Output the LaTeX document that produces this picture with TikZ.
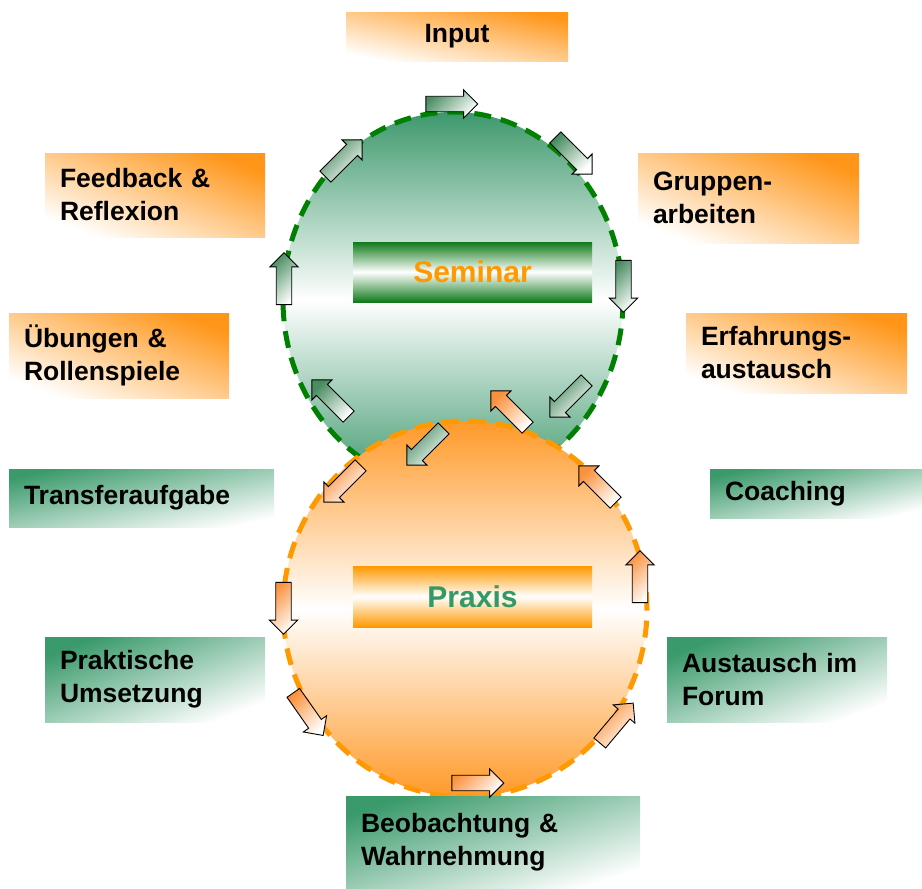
\documentclass[tikz,border=0pt]{standalone}
\usepackage{fontspec}
\setmainfont{Liberation Sans}
\usetikzlibrary{shapes.geometric,shapes.arrows}
\definecolor{boxorange}{RGB}{255,150,25}
\definecolor{boxgreen}{RGB}{58,154,107}
\definecolor{ellgreen}{RGB}{61,152,108}
\definecolor{ellorange}{RGB}{255,153,40}
\definecolor{dashgreen}{RGB}{0,128,0}
\definecolor{dashorange}{RGB}{255,153,0}
\definecolor{bandgreen}{RGB}{16,122,26}
\definecolor{bandorange}{RGB}{255,153,0}
\definecolor{semtext}{RGB}{255,153,0}
\definecolor{prxtext}{RGB}{51,153,102}
\definecolor{arrgreen}{RGB}{72,140,96}
\definecolor{arrorange}{RGB}{250,145,60}
\begin{document}
\begin{tikzpicture}[x=1pt,y=-1pt,
  lbl/.style={inner xsep=15pt, inner ysep=0pt, align=left, text=black,
    font=\bfseries\fontsize{26.5}{33}\selectfont},
  obox/.style={lbl, top color=boxorange, bottom color=white, shading angle=-#1},
  gbox/.style={lbl, top color=boxgreen, bottom color=white, shading angle=#1},
  ellbase/.style={ellipse, inner sep=0pt},
  rim/.style={line width=5pt, dash pattern=on 17pt off 10pt},
  band/.style={rectangle, inner sep=0pt, minimum width=239pt,
    font=\bfseries\fontsize{30}{36}\selectfont},
  arr/.style={single arrow, draw=black, line width=0.9pt, minimum height=52pt,
    inner sep=5pt, single arrow head extend=6.5pt, shape border uses incircle},
  garr/.style={arr, top color=arrgreen, bottom color=white, shading angle=45},
  oarr/.style={arr, top color=arrorange, bottom color=white, shading angle=45}]
\useasboundingbox (0,0) rectangle (922,889);

% ellipses
\node[ellbase, minimum width=340pt, minimum height=376pt,
  top color=ellgreen, bottom color=ellgreen, middle color=white] (seminar) at (453,300) {};
\draw[rim, dashgreen] (seminar.center) ellipse [x radius=170pt, y radius=188pt];
\node[ellbase, minimum width=364pt, minimum height=376pt,
  top color=ellorange, bottom color=ellorange, middle color=white] (praxis) at (465,609) {};
\draw[rim, dashorange] (praxis.center) ellipse [x radius=182pt, y radius=188pt];

% bands
\node[band, minimum height=60pt, text=semtext,
  top color=bandgreen, bottom color=bandgreen, middle color=white] (semband) at (472.5,272) {Seminar};
\node[band, minimum height=61pt, text=prxtext,
  top color=bandorange, bottom color=bandorange, middle color=white] (prxband) at (472.5,596.5) {Praxis};

% orange boxes
\node[obox=12, align=center, minimum width=222pt, minimum height=49pt, text width=192pt] (input) at (457,36.5) {Input};
\node[obox=21, minimum width=220pt, minimum height=84pt, text width=190pt] (feedback) at (155,195) {Feedback \&\\Reflexion};
\node[obox=22, minimum width=221pt, minimum height=90pt, text width=191pt] (gruppen) at (748.5,198) {Gruppen-\\arbeiten};
\node[obox=21, minimum width=220pt, minimum height=85pt, text width=190pt] (uebungen) at (119,355.5) {Übungen \&\\Rollenspiele};
\node[obox=20, minimum width=221pt, minimum height=80pt, text width=191pt] (erfahrung) at (796.5,353) {Erfahrungs-\\austausch};

% green boxes
\node[gbox=12, minimum width=265pt, minimum height=58pt, text width=235pt] (transfer) at (141.5,498) {Transferaufgabe};
\node[gbox=13, minimum width=212pt, minimum height=49pt, text width=182pt] (coaching) at (816,493.5) {Coaching};
\node[gbox=21, minimum width=220pt, minimum height=85pt, text width=190pt] (praktisch) at (155,679.5) {Praktische\\Umsetzung};
\node[gbox=21, minimum width=220pt, minimum height=85pt, text width=190pt] (forum) at (777,679.5) {Austausch im\\Forum};
\node[gbox=18, minimum width=294pt, minimum height=93pt, text width=264pt] (beobachtung) at (493,842.5) {Beobachtung \&\\Wahrnehmung};

% seminar cycle arrows
\node[garr, shape border rotate=0]    (g1) at (448,104) {};
\node[garr, shape border rotate=-45]  (g2) at (571,153) {};
\node[garr, shape border rotate=-90]  (g3) at (623.5,282.5) {};
\node[garr, shape border rotate=-135] (g4) at (571,396) {};
\node[garr, shape border rotate=-135] (g5) at (428,444) {};
\node[garr, shape border rotate=135]  (g6) at (333,401) {};
\node[garr, shape border rotate=90]   (g7) at (284,282.5) {};
\node[garr, shape border rotate=45]   (g8) at (341,161) {};

% praxis cycle arrows
\node[oarr, shape border rotate=135]  (o1) at (512,412) {};
\node[oarr, shape border rotate=-135] (o2) at (345,481) {};
\node[oarr, shape border rotate=-90]  (o3) at (283.5,604.5) {};
\node[oarr, shape border rotate=-55]  (o4) at (306,711) {};
\node[oarr, shape border rotate=0]    (o5) at (474,783) {};
\node[oarr, shape border rotate=50]   (o6) at (614,726) {};
\node[oarr, shape border rotate=90]   (o7) at (640,580.5) {};
\node[oarr, shape border rotate=135]  (o8) at (600,487) {};
\end{tikzpicture}
\end{document}
